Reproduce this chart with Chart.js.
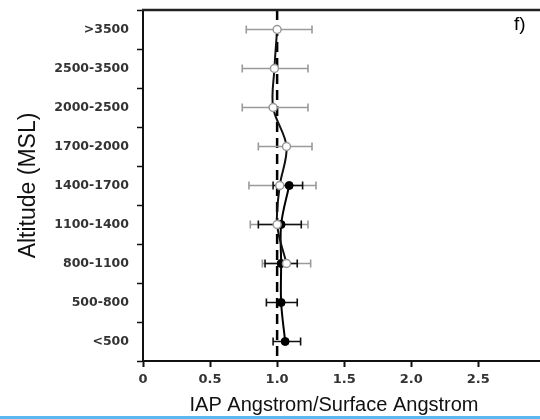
<!DOCTYPE html>
<html>
<head>
<meta charset="utf-8">
<script src="https://cdn.jsdelivr.net/npm/chart.js@4/dist/chart.umd.min.js"></script>
<style>
  html,body{margin:0;padding:0;background:#fff;}
  #wrap{position:relative;width:540px;height:419px;}
  #bar{position:absolute;left:0;top:416px;width:540px;height:3px;background:#5bb8f0;}
</style>
</head>
<body>
<div id="wrap">
  <canvas id="c" width="540" height="419"></canvas>
  <div id="bar"></div>
</div>
<script>
const categories = ['>3500','2500-3500','2000-2500','1700-2000','1400-1700','1100-1400','800-1100','500-800','<500'];
const xTicks = [0, 0.5, 1, 1.5, 2, 2.5];
const blackMean = [null, null, null, null, 1.09, 1.03, 1.03, 1.03, 1.06];
const blackLow  = [null, null, null, null, 0.97, 0.86, 0.91, 0.92, 0.97];
const blackHigh = [null, null, null, null, 1.19, 1.18, 1.15, 1.15, 1.175];
const grayMean  = [1.00, 0.98, 0.97, 1.07, 1.02, 1.00, 1.07, null, null];
const grayLow   = [0.77, 0.74, 0.74, 0.86, 0.79, 0.80, 0.89, null, null];
const grayHigh  = [1.26, 1.23, 1.23, 1.26, 1.29, 1.23, 1.25, null, null];
const refValue = 1;
const xTitle = 'IAP Angstrom/Surface Angstrom';
const panelTag = 'f)';

const errorBars = {
  id: 'errorBars',
  beforeDatasetsDraw(chart) {
    const ctx = chart.ctx, xs = chart.scales.x, ys = chart.scales.y, ca = chart.chartArea;
    ctx.save();
    ctx.strokeStyle = '#000';
    ctx.lineWidth = 2.5;
    ctx.setLineDash([10, 6]);
    const xr = xs.getPixelForValue(refValue);
    ctx.beginPath(); ctx.moveTo(xr, ca.top); ctx.lineTo(xr, ca.bottom); ctx.stroke();
    ctx.restore();
    const sets = [
      {low: grayLow, high: grayHigh, color: '#9a9a9a'},
      {low: blackLow, high: blackHigh, color: '#111'}
    ];
    sets.forEach(s => {
      ctx.save();
      ctx.strokeStyle = s.color;
      ctx.lineWidth = 1.6;
      s.low.forEach((lo, i) => {
        const hi = s.high[i];
        if (lo == null || hi == null) return;
        const y = ys.getPixelForValue(i);
        const x1 = xs.getPixelForValue(lo), x2 = xs.getPixelForValue(hi);
        ctx.beginPath();
        ctx.moveTo(x1, y); ctx.lineTo(x2, y);
        ctx.moveTo(x1, y - 4); ctx.lineTo(x1, y + 4);
        ctx.moveTo(x2, y - 4); ctx.lineTo(x2, y + 4);
        ctx.stroke();
      });
      ctx.restore();
    });
  },
  afterDraw(chart) {
    const ctx = chart.ctx, ca = chart.chartArea;
    ctx.save();
    ctx.strokeStyle = '#222';
    ctx.lineWidth = 2.5;
    ctx.beginPath(); ctx.moveTo(ca.left - 1, ca.top); ctx.lineTo(chart.width, ca.top); ctx.stroke();
    ctx.fillStyle = '#000';
    ctx.font = '19px "Liberation Sans", Arial, sans-serif';
    ctx.textAlign = 'left';
    ctx.textBaseline = 'middle';
    ctx.fillText(panelTag, 514, 25);
    ctx.fillStyle = '#111';
    ctx.font = '20px "Liberation Sans", Arial, sans-serif';
    ctx.textAlign = 'center';
    ctx.fillText(xTitle, 334, 405);
    ctx.restore();
  }
};

new Chart(document.getElementById('c'), {
  type: 'line',
  data: {
    labels: categories,
    datasets: [
      {
        label: 'gray',
        data: grayMean,
        borderColor: '#111',
        borderWidth: 2,
        tension: 0.35,
        pointStyle: 'circle',
        pointRadius: 4,
        pointBackgroundColor: '#fff',
        pointBorderColor: '#999',
        pointBorderWidth: 1.5
      },
      {
        label: 'black',
        data: blackMean,
        borderColor: '#000',
        borderWidth: 2,
        tension: 0.35,
        pointStyle: 'circle',
        pointRadius: 4,
        pointBackgroundColor: '#000',
        pointBorderColor: '#000',
        pointBorderWidth: 1
      }
    ]
  },
  options: {
    indexAxis: 'y',
    responsive: false,
    animation: false,
    layout: {autoPadding: false, padding: {top: 10, right: 0, left: 0, bottom: 0}},
    plugins: {legend: {display: false}, tooltip: {enabled: false}},
    scales: {
      x: {
        type: 'linear',
        min: 0,
        max: 2.96,
        afterBuildTicks(scale) { scale.ticks = xTicks.map(v => ({value: v})); },
        afterFit(scale) { scale.height = 58; scale.paddingLeft = 0; scale.paddingRight = 0; },
        border: {display: true, color: '#111', width: 2},
        grid: {display: true, drawOnChartArea: false, drawTicks: true, tickLength: 6, tickColor: '#111', tickWidth: 2},
        ticks: {
          color: '#333',
          padding: 5,
          font: {family: '"DejaVu Sans", sans-serif', size: 13, weight: 'bold'},
          maxRotation: 0
        },
        title: {display: false}
      },
      y: {
        type: 'category',
        offset: true,
        afterFit(scale) { scale.width = 143; scale.paddingTop = 0; scale.paddingBottom = 0; },
        border: {display: true, color: '#111', width: 2},
        grid: {display: true, offset: true, drawOnChartArea: false, drawTicks: true, tickLength: 6, tickColor: '#111', tickWidth: 1.5},
        ticks: {
          color: '#333',
          padding: 8,
          font: {family: '"DejaVu Sans", sans-serif', size: 12.5, weight: 'bold'}
        },
        title: {
          display: true,
          text: 'Altitude (MSL)',
          color: '#111',
          font: {family: '"Liberation Sans", Arial, sans-serif', size: 23},
          padding: {top: 15, bottom: 0}
        }
      }
    }
  },
  plugins: [errorBars]
});
</script>
</body>
</html>
